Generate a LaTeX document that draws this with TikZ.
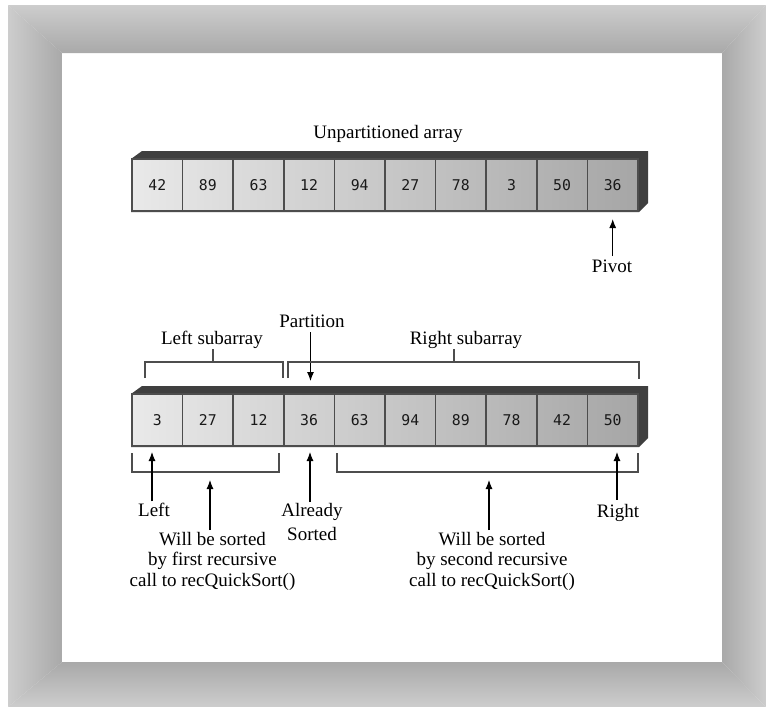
\documentclass[tikz,border=0pt]{standalone}
\usepackage{fontspec}
\setmainfont{Liberation Serif}
\newfontfamily\cellfont{DejaVu Sans Mono}
\usetikzlibrary{arrows.meta}
\definecolor{frlight}{HTML}{CDCDCD}
\definecolor{frdark}{HTML}{A9A9A9}
\definecolor{celllight}{HTML}{E9E9E9}
\definecolor{celldark}{HTML}{A6A6A6}
\definecolor{edgecol}{HTML}{4D4D4D}
\definecolor{slab}{HTML}{3F3F3F}
\newcommand\drawarr[3]{%
  \fill[slab] (131,#2) -- (142,#2-8) -- (648,#2-8) -- (648,#2+44) -- (639,#2+53) -- (131,#2+53) -- cycle;
  \foreach \v [count=\i from 0] in {#3} {
    \pgfmathtruncatemacro\pl{100-10*\i}
    \pgfmathtruncatemacro\pr{90-10*\i}
    \node[cellbox, left color=celllight!\pl!celldark, right color=celllight!\pr!celldark]
      (#1\i) at (157.3+50.6*\i, #2+26) {\v};
  }%
}
\begin{document}
\begin{tikzpicture}[x=1pt,y=-1pt,
  lbl/.style={font=\fontsize{19}{20.5}\selectfont, inner sep=0pt, align=center},
  cellbox/.style={draw=edgecol, line width=1.6pt, minimum width=50.6pt, minimum height=52pt,
    inner sep=0pt, text height=10.8pt, text depth=0pt,
    font=\cellfont\fontsize{14.8}{15}\selectfont, text=black!90},
  brk/.style={draw=edgecol, line width=1.5pt},
  arr/.style={draw=black, line width=1.1pt, -{Latex[length=9pt,width=7pt]}}]
\useasboundingbox (0,0) rectangle (766,707);
\fill[white] (0,0) rectangle (766,707);
% frame
\shade[top color=frlight,bottom color=frdark] (8,5)--(766,5)--(722,53)--(62,53)--cycle;
\shade[left color=frlight,right color=frdark] (8,5)--(62,53)--(62,662)--(8,707)--cycle;
\shade[left color=frdark,right color=frlight] (766,5)--(722,53)--(722,662)--(766,707)--cycle;
\shade[top color=frdark,bottom color=frlight] (8,707)--(62,662)--(722,662)--(766,707)--cycle;
% arrays
\drawarr{t}{159}{42,89,63,12,94,27,78,3,50,36}
\drawarr{b}{394}{3,27,12,36,63,94,89,78,42,50}
% top labels
\node[lbl, anchor=base] (unp) at (388,138) {Unpartitioned array};
\node[lbl, anchor=base] (pivot) at (612,272) {Pivot};
\coordinate (pivtip) at (612.7,219);
\draw[arr, shorten <=3pt] (pivtip |- pivot.north) -- (pivtip);
% partition
\node[lbl, anchor=base] (part) at (312,327) {Partition};
\coordinate (parttip) at (310.5,381);
\draw[arr, shorten <=5pt] (parttip |- part.south) -- (parttip);
% subarray brackets
\node[lbl, anchor=base] (lsub) at (212,344) {Left subarray};
\node[lbl, anchor=base] (rsub) at (466,344) {Right subarray};
\coordinate (lt) at (213,349);
\coordinate (rt) at (454,349);
\draw[brk] (145,378) -- (145,362) -- (283,362) -- (283,378);
\draw[brk] (lt) -- (lt |- 0,362);
\draw[brk] (288,378) -- (288,362) -- (639,362) -- (639,379);
\draw[brk] (rt) -- (rt |- 0,362);
% lower brackets
\draw[brk] (132,453) -- (132,472) -- (279,472) -- (279,453);
\draw[brk] (337,453) -- (337,472) -- (638,472) -- (638,453);
% lower labels
\node[lbl, anchor=base] (left) at (154,516) {Left};
\coordinate (lefttip) at (152,452);
\draw[arr, shorten <=1pt] (lefttip |- left.north) -- (lefttip);
\node[lbl, anchor=north, font=\fontsize{19}{24}\selectfont] (already) at (312,503) {Already\\Sorted};
\coordinate (alrtip) at (310,452);
\draw[arr, shorten <=1pt] (alrtip |- already.north) -- (alrtip);
\node[lbl, anchor=base] (right) at (618,517) {Right};
\coordinate (righttip) at (617,452);
\draw[arr, shorten <=4pt] (righttip |- right.north) -- (righttip);
\node[lbl, anchor=north] (will1) at (212.5,532) {Will be sorted\\by first recursive\\call to recQuickSort()};
\coordinate (w1tip) at (210,480);
\draw[arr, shorten <=2pt] (w1tip |- will1.north) -- (w1tip);
\node[lbl, anchor=north] (will2) at (492,532) {Will be sorted\\by second recursive\\call to recQuickSort()};
\coordinate (w2tip) at (489,480);
\draw[arr, shorten <=2pt] (w2tip |- will2.north) -- (w2tip);
\end{tikzpicture}
\end{document}
